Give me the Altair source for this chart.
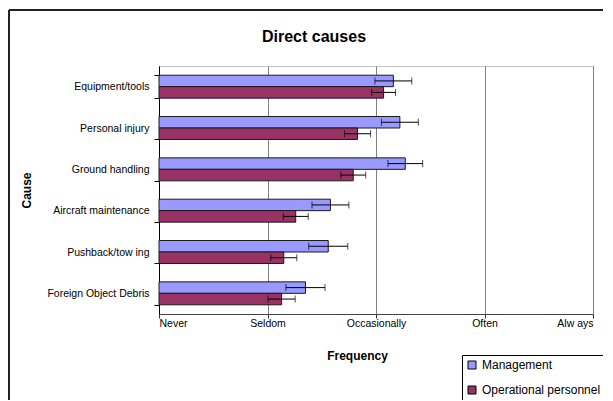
import altair as alt
import pandas as pd

causes = ["Equipment/tools", "Personal injury", "Ground handling",
          "Aircraft maintenance", "Pushback/tow ing", "Foreign Object Debris"]
groups = ["Management", "Operational personnel"]
mgmt = [3.16, 3.22, 3.27, 2.58, 2.56, 2.35]
mgmt_err = [0.17, 0.17, 0.16, 0.17, 0.18, 0.18]
oper = [3.07, 2.83, 2.79, 2.26, 2.15, 2.13]
oper_err = [0.11, 0.12, 0.115, 0.115, 0.12, 0.125]
freq_values = [1, 2, 3, 4, 5]
freq_labels = ["Never", "Seldom", "Occasionally", "Often", "Alw ays"]
colors = ["#9999FF", "#993366"]

rows = []
for i, c in enumerate(causes):
    rows.append(dict(cause=c, group=groups[0], value=mgmt[i], err=mgmt_err[i]))
    rows.append(dict(cause=c, group=groups[1], value=oper[i], err=oper_err[i]))
df = pd.DataFrame(rows)
df["lo"] = df["value"] - df["err"]
df["hi"] = df["value"] + df["err"]

FONT = "Liberation Sans"
label_expr = "[" + ",".join("'%s'" % s for s in freq_labels) + "][datum.value - 1]"

x_scale = alt.Scale(domain=[1, 5], zero=False, nice=False)
x_axis = alt.Axis(values=freq_values, labelExpr=label_expr, title="Frequency",
                  grid=True, gridColor="#808080", gridWidth=1,
                  tickSize=4, tickColor="#333", domainColor="#444",
                  labelPadding=0, labelFontSize=10.5, labelColor="#000", labelFont=FONT,
                  titleFont=FONT, titleFontSize=12, titleFontWeight="bold",
                  titleX=198, titleY=45, titleBaseline="alphabetic", titleColor="#000")
y_axis = alt.Axis(title="Cause", grid=False, tickBand="extent", tickSize=5,
                  tickColor="#000", domainColor="#000", labelPadding=5,
                  labelFontSize=10.5, labelFont=FONT, labelColor="#000",
                  titleFont=FONT, titleFontSize=12, titleFontWeight="bold",
                  titleX=-133, titleY=124, titleAngle=270, titleAlign="center",
                  titleBaseline="middle", titleColor="#000")

y_enc = alt.Y("cause:N", sort=causes,
              scale=alt.Scale(paddingInner=0.445, paddingOuter=0.2225), axis=y_axis)
yoff = alt.YOffset("group:N", sort=groups, scale=alt.Scale(paddingInner=0, paddingOuter=0))

base = alt.Chart(df)
bars = base.mark_bar(stroke="#1a1a1a", strokeWidth=1).encode(
    x=alt.X("value:Q", scale=x_scale, axis=x_axis),
    x2=alt.datum(1),
    y=y_enc, yOffset=yoff,
    color=alt.Color("group:N", sort=groups,
                    scale=alt.Scale(domain=groups, range=colors),
                    legend=alt.Legend(title=None, orient="none", legendX=303, legendY=289,
                                      strokeColor="#000", fillColor="#fff", padding=4,
                                      symbolType="square", symbolSize=64,
                                      symbolStrokeColor="#000", symbolStrokeWidth=1,
                                      labelFont=FONT, labelFontSize=12, labelColor="#000",
                                      rowPadding=13, labelOffset=4)))
err_line = base.mark_rule(color="#000", strokeWidth=1).encode(
    x=alt.X("lo:Q", scale=x_scale, axis=x_axis), x2="hi:Q", y=y_enc, yOffset=yoff)
cap_lo = base.mark_tick(color="#000", thickness=1, size=7).encode(
    x=alt.X("lo:Q", scale=x_scale, axis=x_axis), y=y_enc, yOffset=yoff)
cap_hi = base.mark_tick(color="#000", thickness=1, size=7).encode(
    x=alt.X("hi:Q", scale=x_scale, axis=x_axis), y=y_enc, yOffset=yoff)

frame_df = pd.DataFrame({"k": [0]})
frame_left = alt.Chart(frame_df).mark_rule(color="#222", strokeWidth=2).encode(
    x=alt.value(-150), y=alt.value(-56), y2=alt.value(340))
frame_top = alt.Chart(frame_df).mark_rule(color="#222", strokeWidth=2).encode(
    x=alt.value(-150), x2=alt.value(460), y=alt.value(-56))

chart = alt.layer(bars, err_line, cap_lo, cap_hi, frame_left, frame_top).properties(
    width=434, height=248,
    title=alt.TitleParams("Direct causes", font=FONT, fontSize=16, fontWeight="bold",
                          color="#000", anchor="middle", frame="group", baseline="alphabetic",
                          dx=-62, dy=71, offset=22),
    autosize=alt.AutoSizeParams(type="none"),
    padding={"left": 151, "top": 58, "right": 10, "bottom": 86},
).configure_view(stroke="#c0c0c0", strokeWidth=1)

chart.save("out.html", embed_options={"renderer": "svg", "actions": False})
